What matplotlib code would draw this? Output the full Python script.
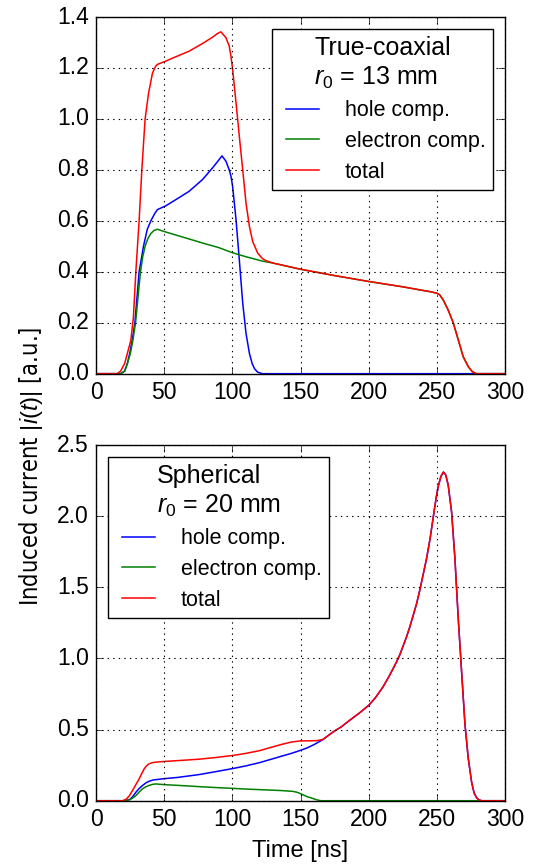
import numpy as np
import matplotlib
matplotlib.use("Agg")
import matplotlib.pyplot as plt
from matplotlib import font_manager

# ---- data (time in ns, current in a.u.) ----
# top panel: true-coaxial, r0 = 13 mm
t_coax_hole = [0, 18, 21, 23, 24.7, 26.5, 28.5, 31.6, 34.8, 37.5, 40.2, 43, 45, 51.2, 58.5,
               68.3, 78.1, 85.5, 89.5, 92.4, 95.3, 97.7, 99, 100.2, 102.7, 105.1, 107.6, 110,
               112.5, 114.5, 116.2, 118.5, 122, 300]
coax_hole = [0, 0, 0.01, 0.04, 0.08, 0.13, 0.2, 0.4, 0.5, 0.565, 0.6, 0.628, 0.644, 0.659, 0.683,
             0.716, 0.762, 0.808, 0.835, 0.855, 0.834, 0.80, 0.775, 0.735, 0.604, 0.447, 0.277,
             0.159, 0.08, 0.04, 0.02, 0.006, 0, 0]

t_coax_elec = [0, 18, 21, 23, 25.2, 27, 29, 30.8, 32.6, 34.3, 36, 38, 40.2, 42.5, 45, 50, 60, 70,
               80, 90, 100, 110, 122, 130, 150, 175, 200, 225, 237.5, 245, 250, 252, 254.6,
               258.3, 262, 265.7, 269.3, 273, 276, 279, 300]
coax_elec = [0, 0, 0.01, 0.04, 0.08, 0.13, 0.2, 0.3, 0.4, 0.46, 0.5, 0.53, 0.55, 0.562, 0.567,
             0.558, 0.542, 0.526, 0.51, 0.495, 0.475, 0.459, 0.442, 0.434, 0.41, 0.385, 0.362,
             0.341, 0.329, 0.322, 0.316, 0.31, 0.29, 0.25, 0.2, 0.133, 0.067, 0.028, 0.008, 0, 0]

t_coax_tot = [0, 15.5, 18, 21, 23, 25.5, 27.4, 29.2, 31.6, 33.6, 36, 38.5, 41.4, 43.5, 45, 51.2,
              58.5, 68.3, 78.1, 85.5, 89, 91.6, 95.3, 97.7, 99, 100.2, 102.7, 105.1, 107.6, 110,
              112.5, 114.9, 118.6, 122, 125, 130, 150, 175, 200, 225, 237.5, 245, 250, 252,
              254.6, 258.3, 262, 265.7, 269.3, 273, 276, 279, 300]
coax_tot = [0, 0, 0.01, 0.04, 0.08, 0.13, 0.22, 0.4, 0.6, 0.8, 1.0, 1.1, 1.18, 1.205, 1.214,
            1.227, 1.244, 1.266, 1.296, 1.321, 1.335, 1.342, 1.319, 1.286, 1.245, 1.194, 1.063,
            0.932, 0.8, 0.67, 0.578, 0.519, 0.473, 0.452, 0.443, 0.434, 0.41, 0.385, 0.362,
            0.341, 0.329, 0.322, 0.316, 0.31, 0.29, 0.25, 0.2, 0.133, 0.067, 0.028, 0.008, 0, 0]

# bottom panel: spherical, r0 = 20 mm
t_sph_hole = [0, 21.5, 25, 27, 29.2, 31.5, 34, 36.5, 39, 42, 46.3, 50, 60, 75.7, 87, 100.2,
              110, 120, 127.2, 135, 143, 149.3, 155, 160, 166.4, 173.8, 180, 186, 193, 200.2,
              205, 210.5, 215, 220.4, 222.8, 227.7, 230.1, 235, 237.5, 242.4, 245, 247.3,
              249.5, 251, 253, 254.8, 256.5, 258.3, 260.8, 263.2, 265.7, 268.2, 270.6, 273,
              275.5, 277.3, 279.2, 281, 283, 300]
sph_hole = [0, 0, 0.01, 0.03, 0.059, 0.085, 0.106, 0.125, 0.137, 0.146, 0.151, 0.155, 0.164,
            0.184, 0.203, 0.226, 0.245, 0.268, 0.288, 0.31, 0.332, 0.352, 0.372, 0.395, 0.43,
            0.483, 0.52, 0.565, 0.615, 0.672, 0.725, 0.8, 0.875, 0.975, 1.025, 1.15, 1.22, 1.38,
            1.48, 1.7, 1.84, 1.99, 2.13, 2.21, 2.28, 2.31, 2.29, 2.22, 2.03, 1.71, 1.28, 0.9,
            0.54, 0.3, 0.13, 0.055, 0.02, 0.005, 0, 0]

t_sph_elec = [0, 22, 25, 27, 29.2, 31.5, 34, 36.5, 39, 41.5, 43.9, 50, 60, 75.7, 87, 100.2,
              110, 120, 127.2, 135, 144.3, 148, 151.7, 155, 159, 162, 165, 300]
sph_elec = [0, 0, 0.008, 0.02, 0.035, 0.06, 0.083, 0.098, 0.108, 0.115, 0.118, 0.113, 0.108,
            0.099, 0.093, 0.087, 0.082, 0.078, 0.075, 0.072, 0.066, 0.058, 0.042, 0.028, 0.016,
            0.006, 0, 0]

t_sph_tot = [0, 19.5, 22, 24.5, 26.7, 29, 31.6, 33.5, 35.3, 37, 39, 41.5, 43.9, 50, 60, 75.7,
             87, 100.2, 110, 120, 127.2, 135, 143, 149.3, 155, 161.5, 166.4, 173.8, 180, 186,
             193, 200.2, 205, 210.5, 215, 220.4, 222.8, 227.7, 230.1, 235, 237.5, 242.4, 245,
             247.3, 249.5, 251, 253, 254.8, 256.5, 258.3, 260.8, 263.2, 265.7, 268.2, 270.6,
             273, 275.5, 277.3, 279.2, 281, 283, 300]
sph_tot = [0, 0, 0.01, 0.035, 0.071, 0.11, 0.153, 0.19, 0.224, 0.245, 0.26, 0.268, 0.271,
           0.276, 0.282, 0.292, 0.303, 0.318, 0.333, 0.352, 0.372, 0.393, 0.412, 0.42, 0.421,
           0.422, 0.43, 0.483, 0.52, 0.565, 0.615, 0.672, 0.725, 0.8, 0.875, 0.975, 1.025, 1.15,
           1.22, 1.38, 1.48, 1.7, 1.84, 1.99, 2.13, 2.21, 2.28, 2.31, 2.29, 2.22, 2.03, 1.71,
           1.28, 0.9, 0.54, 0.3, 0.13, 0.055, 0.02, 0.005, 0, 0]

labels = ["hole comp.", "electron comp.", "total"]
colors = ["b", "g", "r"]

plt.style.use("classic")
plt.rcParams["font.family"] = ["Liberation Sans", "DejaVu Sans"]
plt.rcParams["mathtext.fontset"] = "custom"
plt.rcParams["mathtext.rm"] = "Liberation Sans"
plt.rcParams["mathtext.it"] = "Liberation Sans:italic"

# the y label in the original is set in a condensed sans; pick the narrowest installed one
stretch_rank = {"ultra-condensed": 0, "extra-condensed": 1, "condensed": 2, "semi-condensed": 3}
cands = [f for f in font_manager.fontManager.ttflist
         if f.stretch in stretch_rank and f.style == "normal"
         and f.weight in (400, "normal", "regular")]
cands.sort(key=lambda f: stretch_rank[f.stretch])
if cands:
    ylab_font = font_manager.FontProperties(fname=cands[0].fname, size=17)
else:
    ylab_font = font_manager.FontProperties(family="Liberation Sans", size=17)

fig = plt.figure(figsize=(5.41, 8.65), dpi=100, facecolor="white")
ax1 = fig.add_axes([0.1775, 0.568, 0.756, 0.4123])
ax2 = fig.add_axes([0.1775, 0.0743, 0.756, 0.4112])


def draw(ax, series, ylim, yticks, title, loc):
    for (t, y), lab, c in zip(series, labels, colors):
        ax.plot(t, y, color=c, lw=1.1, label=lab)
    ax.set_xlim(0, 300)
    ax.set_ylim(*ylim)
    ax.set_xticks([0, 50, 100, 150, 200, 250, 300])
    ax.set_yticks(yticks)
    ax.grid(True, color="k", linestyle=":", linewidth=0.8)
    ax.tick_params(labelsize=16.5, direction="in", length=5, pad=5, top=True, right=True)
    leg = ax.legend(loc=loc, title=title, fontsize=15.5, title_fontsize=18,
                    handlelength=2.15, handletextpad=0.9, labelspacing=0.45,
                    borderaxespad=0.55, borderpad=0.35, fancybox=False, frameon=True)
    leg.get_frame().set_edgecolor("k")
    leg.get_frame().set_linewidth(1.0)


draw(ax1, [(t_coax_hole, coax_hole), (t_coax_elec, coax_elec), (t_coax_tot, coax_tot)],
     (0, 1.4), np.arange(0, 1.41, 0.2), "True-coaxial\n$r_0$ = 13 mm", "upper right")
draw(ax2, [(t_sph_hole, sph_hole), (t_sph_elec, sph_elec), (t_sph_tot, sph_tot)],
     (0, 2.5), np.arange(0, 2.51, 0.5), "Spherical\n$r_0$ = 20 mm", "upper left")

ax2.set_xlabel("Time [ns]", fontsize=17, labelpad=7)
ylab = fig.text(31 / 541, 0.461, "Induced current $|i(t)|$ [a.u.]", rotation=90,
                ha="center", va="center", fontproperties=ylab_font)

# shrink the label so it spans about as much as in the original (~290 px)
renderer = fig.canvas.get_renderer()
length = ylab.get_window_extent(renderer).height
ylab.set_fontsize(ylab.get_fontsize() * min(1.0, 290 / length))

fig.savefig("out.png", dpi=100, facecolor="white")
